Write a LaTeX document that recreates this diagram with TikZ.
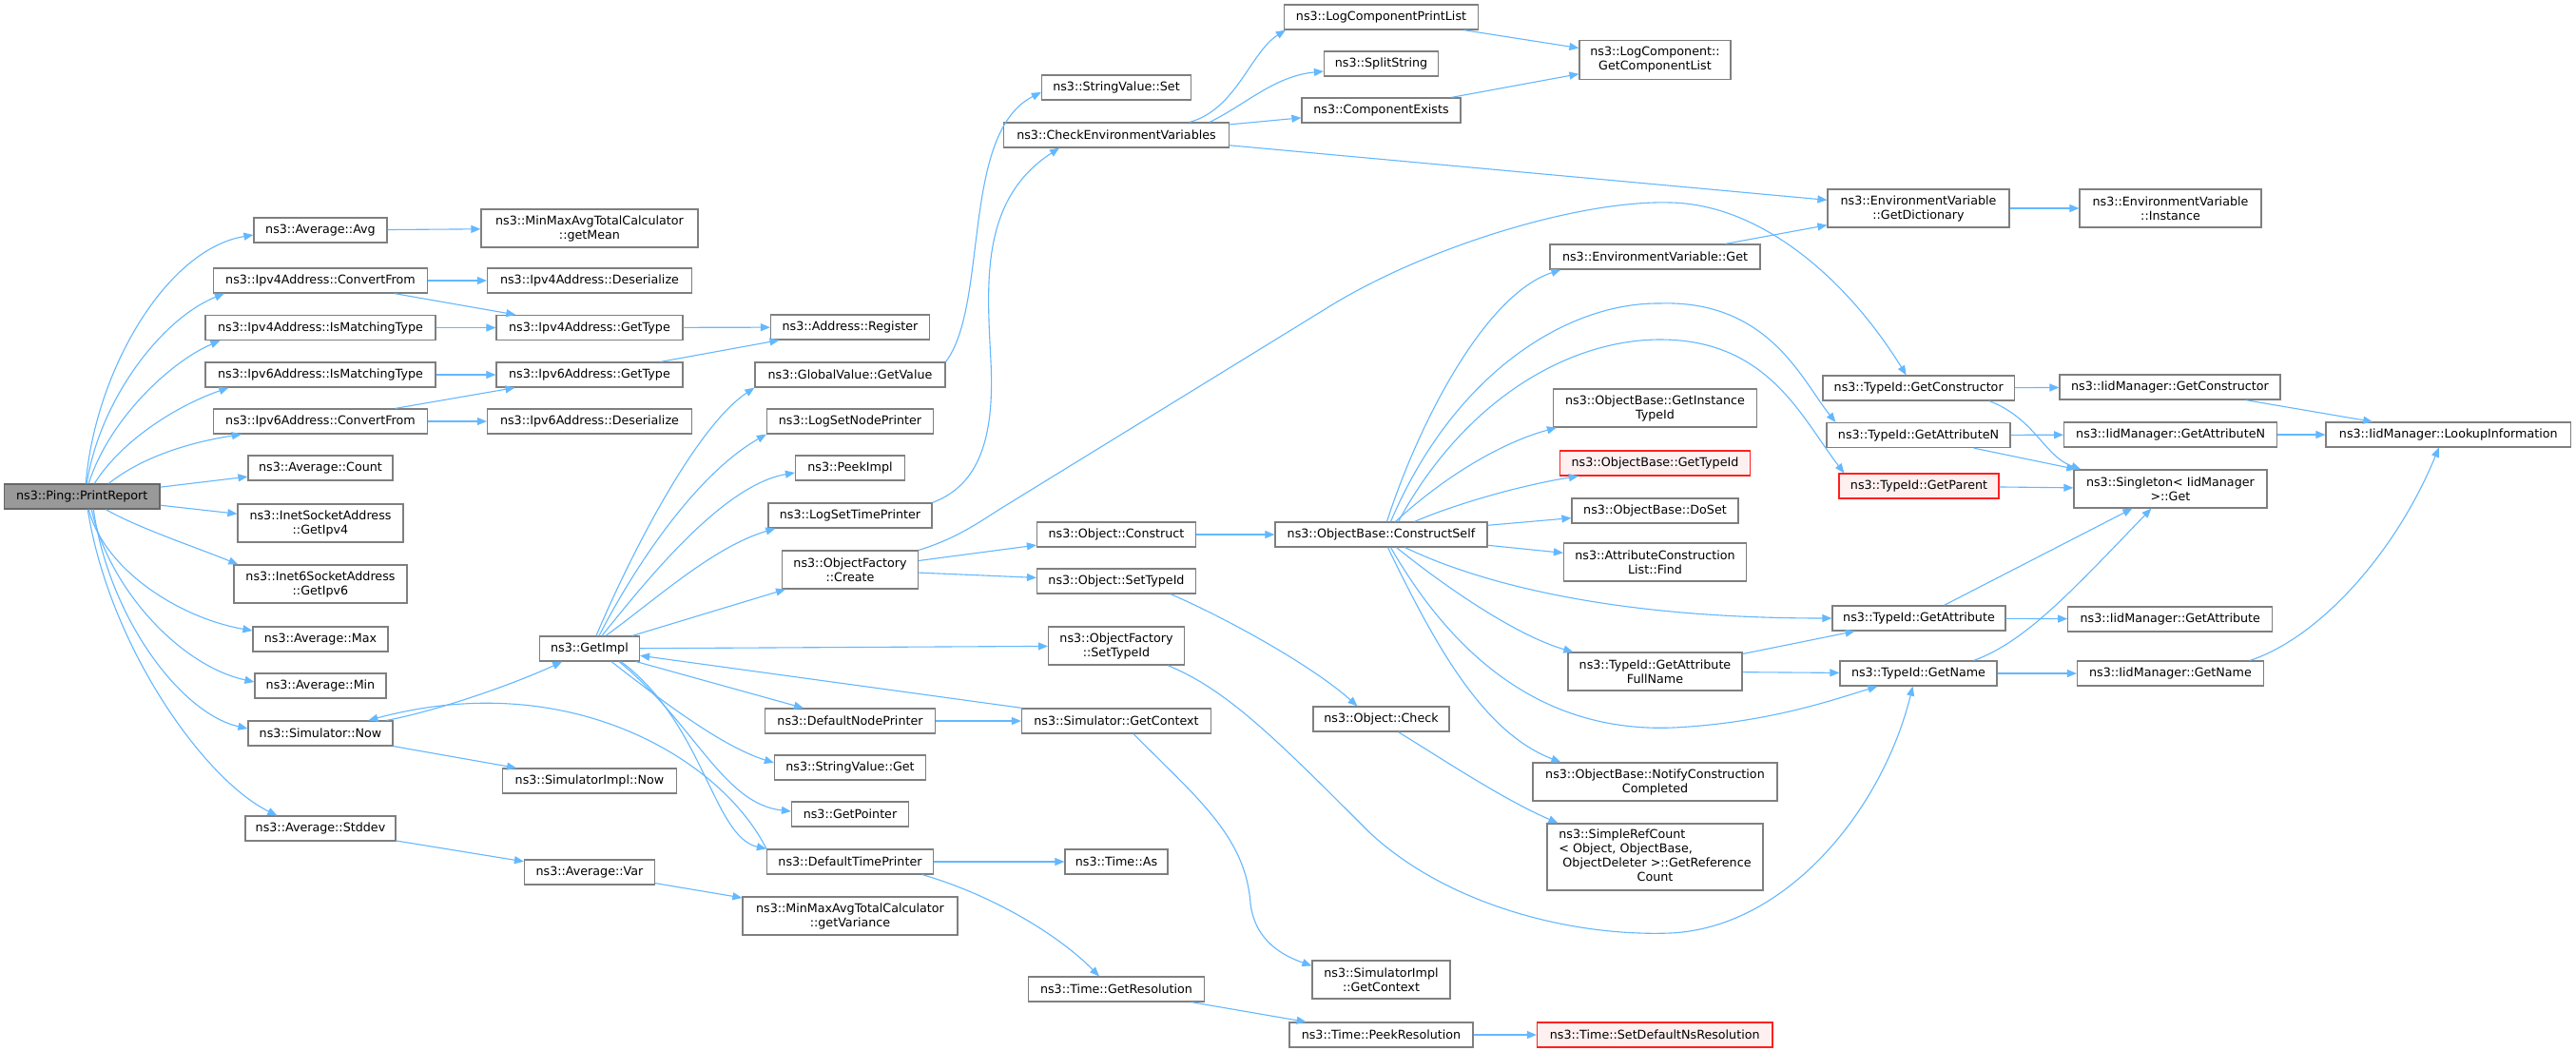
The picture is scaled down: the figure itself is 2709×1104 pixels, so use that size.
\documentclass[tikz,border=0pt]{standalone}
\usepackage{fontspec}
\setmainfont{DejaVu Sans}
\usetikzlibrary{arrows.meta,calc}
\definecolor{edgec}{HTML}{63B8FF}
\definecolor{nodeb}{HTML}{7F7F7F}
\definecolor{prfill}{HTML}{999999}
\definecolor{redb}{HTML}{FF2020}
\definecolor{redf}{HTML}{FFF0F0}
\tikzset{
  box/.style={draw=nodeb, line width=1.2pt, fill=white, minimum height=26pt, inner sep=0pt, align=center, font=\fontsize{12.7pt}{15pt}\selectfont, text=black},
  box2/.style={box, minimum height=40pt},
  bw/.style={minimum width=#1pt},
  redbox/.style={draw=redb, fill=redf},
  conn/.style={draw=edgec, line width=1.1pt, -{Triangle[length=10pt,width=8pt]}},
}
\begin{document}
\begin{tikzpicture}[x=1pt,y=-1pt]
\useasboundingbox (0,0) rectangle (2709,1104);
\fill[white] (0,0) rectangle (2709,1104);
% column A
\node[box,bw=163.5,fill=prfill,draw=nodeb!80!black] (pr) at (86.25,522) {ns3::Ping::PrintReport};
% column B
\node[box,bw=140] (avg) at (337,242) {ns3::Average::Avg};
\node[box,bw=225] (v4cf) at (337,295) {ns3::Ipv4Address::ConvertFrom};
\node[box,bw=242] (v4im) at (337,344.5) {ns3::Ipv4Address::IsMatchingType};
\node[box,bw=242] (v6im) at (337,394) {ns3::Ipv6Address::IsMatchingType};
\node[box,bw=225] (v6cf) at (337,443) {ns3::Ipv6Address::ConvertFrom};
\node[box,bw=152] (cnt) at (337,492) {ns3::Average::Count};
\node[box2,bw=174] (ip4) at (337,550) {ns3::InetSocketAddress\\::GetIpv4};
\node[box2,bw=182] (ip6) at (337,614) {ns3::Inet6SocketAddress\\::GetIpv6};
\node[box,bw=142] (max) at (337,672) {ns3::Average::Max};
\node[box,bw=138] (min) at (337,721) {ns3::Average::Min};
\node[box,bw=152] (snow) at (337,771) {ns3::Simulator::Now};
\node[box,bw=158] (std) at (337,871) {ns3::Average::Stddev};
% column C
\node[box2,bw=228] (mean) at (620,240) {ns3::MinMaxAvgTotalCalculator\\::getMean};
\node[box,bw=215] (v4ds) at (620,295) {ns3::Ipv4Address::Deserialize};
\node[box,bw=196] (v4gt) at (620,344.5) {ns3::Ipv4Address::GetType};
\node[box,bw=196] (v6gt) at (620,394) {ns3::Ipv6Address::GetType};
\node[box,bw=215] (v6ds) at (620,443) {ns3::Ipv6Address::Deserialize};
\node[box,bw=105] (gimpl) at (620,682) {ns3::GetImpl};
\node[box,bw=183] (simn) at (620,821) {ns3::SimulatorImpl::Now};
\node[box,bw=137] (var) at (620,917) {ns3::Average::Var};
% column D
\node[box,bw=167] (reg) at (894,344) {ns3::Address::Register};
\node[box,bw=200] (gv) at (894,394) {ns3::GlobalValue::GetValue};
\node[box,bw=175] (lsnp) at (894,443) {ns3::LogSetNodePrinter};
\node[box,bw=115] (peek) at (894,492) {ns3::PeekImpl};
\node[box,bw=172] (lstp) at (894,542) {ns3::LogSetTimePrinter};
\node[box2,bw=143] (ofc) at (894,599) {ns3::ObjectFactory\\::Create};
\node[box,bw=179] (dnp) at (894,758) {ns3::DefaultNodePrinter};
\node[box,bw=159] (svg) at (894,807) {ns3::StringValue::Get};
\node[box,bw=123] (gptr) at (894,856) {ns3::GetPointer};
\node[box,bw=175] (dtp) at (894,906) {ns3::DefaultTimePrinter};
\node[box2,bw=226] (var2) at (894,963) {ns3::MinMaxAvgTotalCalculator\\::getVariance};
% column E
\node[box,bw=157] (svs) at (1174,92) {ns3::StringValue::Set};
\node[box,bw=237] (cev) at (1174,142) {ns3::CheckEnvironmentVariables};
\node[box,bw=167] (ocon) at (1174,562) {ns3::Object::Construct};
\node[box,bw=167] (osti) at (1174,611) {ns3::Object::SetTypeId};
\node[box2,bw=143] (ofst) at (1174,679) {ns3::ObjectFactory\\::SetTypeId};
\node[box,bw=199] (sgc) at (1174,758) {ns3::Simulator::GetContext};
\node[box,bw=108] (tas) at (1174,906) {ns3::Time::As};
\node[box,bw=185] (tgr) at (1174,1040) {ns3::Time::GetResolution};
% column F
\node[box,bw=204] (lcpl) at (1452.5,18) {ns3::LogComponentPrintList};
\node[box,bw=120] (split) at (1452.5,67) {ns3::SplitString};
\node[box,bw=167] (cex) at (1452.5,116) {ns3::ComponentExists};
\node[box,bw=223] (cself) at (1452.5,562) {ns3::ObjectBase::ConstructSelf};
\node[box,bw=143] (ochk) at (1452.5,756) {ns3::Object::Check};
\node[box2,bw=145] (sigc) at (1452.5,1030) {ns3::SimulatorImpl\\::GetContext};
\node[box,bw=193] (tpr) at (1452.5,1088) {ns3::Time::PeekResolution};
% column G
\node[box2,bw=159,minimum height=41pt] (gcl) at (1740.5,63) {ns3::LogComponent::\\GetComponentList};
\node[box,bw=221] (evg) at (1740.5,270) {ns3::EnvironmentVariable::Get};
\node[box2,bw=214] (git) at (1740.5,429) {ns3::ObjectBase::GetInstance\\TypeId};
\node[box,bw=200,redbox] (ogt) at (1740.5,487) {ns3::ObjectBase::GetTypeId};
\node[box,bw=175] (doset) at (1740.5,537) {ns3::ObjectBase::DoSet};
\node[box2,bw=192] (acl) at (1740.5,591) {ns3::AttributeConstruction\\List::Find};
\node[box2,bw=183] (gafn) at (1740.5,706) {ns3::TypeId::GetAttribute\\FullName};
\node[box2,bw=257] (ncc) at (1740.5,822) {ns3::ObjectBase::NotifyConstruction\\Completed};
\node[box,bw=227,minimum height=70pt] (src) at (1740.5,901) {\begin{tabular}{@{}l@{}}ns3::SimpleRefCount\\< Object, ObjectBase,\\\ ObjectDeleter >::GetReference\\\multicolumn{1}{@{}c@{}}{Count}\end{tabular}};
\node[box,bw=247.5,redbox] (sdn) at (1740.25,1088) {ns3::Time::SetDefaultNsResolution};
% column H
\node[box2,bw=191] (gdict) at (2017.5,219) {ns3::EnvironmentVariable\\::GetDictionary};
\node[box,bw=201.5] (tgc) at (2017.7,408) {ns3::TypeId::GetConstructor};
\node[box,bw=193] (tgan) at (2017.5,457.5) {ns3::TypeId::GetAttributeN};
\node[box,bw=168,redbox] (tgp) at (2018,511) {ns3::TypeId::GetParent};
\node[box,bw=182] (tga) at (2018,650) {ns3::TypeId::GetAttribute};
\node[box,bw=165] (tgn) at (2017.5,708) {ns3::TypeId::GetName};
% column I
\node[box2,bw=191] (evi) at (2282.5,219) {ns3::EnvironmentVariable\\::Instance};
\node[box,bw=232] (igc) at (2282,407) {ns3::IidManager::GetConstructor};
\node[box,bw=224] (igan) at (2282.6,457) {ns3::IidManager::GetAttributeN};
\node[box2,bw=203] (sing) at (2282.4,514) {ns3::Singleton< IidManager\\>::Get};
\node[box,bw=215] (iga) at (2282.3,651) {ns3::IidManager::GetAttribute};
\node[box,bw=196] (ign) at (2282.5,708) {ns3::IidManager::GetName};
% column J
\node[box,bw=257.5] (lookup) at (2574.75,457) {ns3::IidManager::LookupInformation};

% ---- edges from PrintReport
\draw[conn] ($(pr.north)+(4,0)$) .. controls (100,390) and (175,262) .. ($(avg.west)+(0,5)$);
\draw[conn] ($(pr.north)+(5,0)$) .. controls (105,420) and (170,335) .. ($(v4cf.south west)+(12,0)$);
\draw[conn] ($(pr.north)+(7,0)$) .. controls (115,440) and (180,380) .. ($(v4im.south west)+(16,0)$);
\draw[conn] ($(pr.north)+(13,0)$) .. controls (130,460) and (190,425) .. ($(v6im.south west)+(25,0)$);
\draw[conn] ($(pr.north)+(28,0)$) .. controls (150,480) and (200,465) .. ($(v6cf.south west)+(30,0)$);
\draw[conn] (pr) -- (cnt);
\draw[conn] (pr) -- (ip4);
\draw[conn] ($(pr.south)+(25,0)$) .. controls (145,555) and (205,575) .. ($(ip6.north west)+(5,0)$);
\draw[conn] ($(pr.south)+(7,0)$) .. controls (110,600) and (190,650) .. ($(max.west)+(0,-9)$);
\draw[conn] ($(pr.south)+(10,0)$) .. controls (115,620) and (190,700) .. ($(min.west)+(0,-4)$);
\draw[conn] ($(pr.south)+(12,0)$) .. controls (115,650) and (190,750) .. ($(snow.west)+(0,-5)$);
\draw[conn] ($(pr.south)+(6,0)$) .. controls (115,680) and (215,820) .. ($(std.north west)+(34,0)$);
% ---- column B -> C
\draw[conn] (avg) -- (mean);
\draw[conn] (v4cf) -- (v4ds);
\draw[conn] (v4cf) -- (v4gt);
\draw[conn] (v4im) -- (v4gt);
\draw[conn] (v6im) -- (v6gt);
\draw[conn] (v6cf) -- (v6gt);
\draw[conn] (v6cf) -- (v6ds);
\draw[conn] (v4gt) -- (reg);
\draw[conn] (v6gt) -- (reg);
\draw[conn] (snow) .. controls (470,745) and (550,715) .. (gimpl);
\draw[conn] (snow) -- (simn);
\draw[conn] (std) -- (var);
\draw[conn] (var) -- (var2);
% ---- GetImpl
\draw[conn] ($(gimpl.north)+(7,0)$) .. controls (660,590) and (730,450) .. (gv.south west);
\draw[conn] ($(gimpl.north)+(10,0)$) .. controls (665,600) and (730,500) .. (lsnp.south west);
\draw[conn] ($(gimpl.north)+(13,0)$) .. controls (680,610) and (760,510) .. ($(peek.west)+(0,5)$);
\draw[conn] ($(gimpl.north)+(17,0)$) .. controls (690,630) and (750,575) .. ($(lstp.south west)+(8,0)$);
\draw[conn] (gimpl) -- (ofc);
\draw[conn] (gimpl) -- (ofst);
\draw[conn] (gimpl) -- (dnp);
\draw[conn] ($(gimpl.south)+(23,0)$) .. controls (700,740) and (760,785) .. ($(svg.west)+(0,-5)$);
\draw[conn] ($(gimpl.south)+(31,0)$) .. controls (730,760) and (760,845) .. ($(gptr.west)+(0,-3)$);
\draw[conn] ($(gimpl.south)+(33,0)$) .. controls (740,760) and (750,880) .. (dtp.north west);
\draw[conn] (dtp.north west) .. controls (760,800) and (600,700) .. (snow);
\draw[conn] (sgc) -- (gimpl);
\draw[conn] (dnp) -- (sgc);
\draw[conn] (dtp) -- (tas);
\draw[conn] ($(dtp.south east)+(-12,0)$) .. controls (1040,940) and (1110,980) .. ($(tgr.north)+(-18,0)$);
\draw[conn] (tgr) -- (tpr);
\draw[conn] (tpr) -- (sdn);
\draw[conn] ($(sgc.south)+(18,0)$) .. controls (1260,840) and (1310,880) .. (1315,950) .. controls (1320,990) and (1350,1005) .. ($(sigc.north west)+(0,6)$);
% ---- GlobalValue / LogSetTimePrinter
\draw[conn] (gv.north east) .. controls (1040,320) and (1010,140) .. ($(svs.west)+(0,5)$);
\draw[conn] (lstp.north east) .. controls (1030,510) and (1046,460) .. (1042,380) .. controls (1038,300) and (1030,210) .. ($(cev.south)+(-60,0)$);
% ---- CheckEnvironmentVariables
\draw[conn] ($(cev.north)+(77,0)$) .. controls (1300,115) and (1315,55) .. ($(lcpl.south west)+(2,0)$);
\draw[conn] ($(cev.north)+(98,0)$) .. controls (1310,110) and (1340,80) .. ($(split.west)+(0,8)$);
\draw[conn] (cev) -- (cex);
\draw[conn] (cev) -- (gdict);
\draw[conn] (lcpl) -- (gcl);
\draw[conn] (cex) -- (gcl);
\draw[conn] (evg) -- (gdict);
\draw[conn] (gdict) -- (evi);
% ---- Object factory
\draw[conn] (ofc) -- (ocon);
\draw[conn] (ofc) -- (osti);
\draw[conn] (ofc.north east) .. controls (1010,565) and (1035,545) .. (1060,530) -- (1400,321) .. controls (1500,260) and (1660,210) .. (1757,213) .. controls (1850,215) and (1940,290) .. ($(tgc.north)+(-13,0)$);
\draw[conn] (ocon) -- (cself);
\draw[conn] ($(osti.south)+(57,0)$) .. controls (1290,650) and (1380,700) .. ($(ochk.north)+(-25,0)$);
\draw[conn] ($(ofst.south)+(54,0)$) .. controls (1290,725) and (1340,775) .. (1440,875) .. controls (1520,950) and (1650,985) .. (1757,981) .. controls (1880,975) and (1980,850) .. ($(tgn.south)+(-6,0)$);
\draw[conn] ($(ochk.south)+(18,0)$) .. controls (1520,800) and (1580,840) .. ($(src.north west)+(12,0)$);
% ---- ConstructSelf
\draw[conn] ($(cself.north)+(6,0)$) .. controls (1490,450) and (1560,310) .. ($(evg.south west)+(12,0)$);
\draw[conn] ($(cself.north)+(10,0)$) .. controls (1530,390) and (1650,318) .. (1745,319) .. controls (1860,315) and (1895,400) .. ($(tgan.north west)+(10,0)$);
\draw[conn] ($(cself.north)+(18,0)$) .. controls (1540,420) and (1650,357) .. (1746,357) .. controls (1860,357) and (1895,440) .. ($(tgp.north west)+(6,0)$);
\draw[conn] ($(cself.north)+(15,0)$) .. controls (1520,500) and (1580,465) .. ($(git.south west)+(4,0)$);
\draw[conn] ($(cself.north)+(35,0)$) .. controls (1530,530) and (1600,510) .. ($(ogt.south west)+(20,0)$);
\draw[conn] (cself) -- (doset);
\draw[conn] (cself) -- (acl);
\draw[conn] ($(cself.south)+(25,0)$) .. controls (1560,615) and (1700,650) .. (tga);
\draw[conn] ($(cself.south)+(16,0)$) .. controls (1530,625) and (1600,670) .. ($(gafn.north west)+(6,0)$);
\draw[conn] ($(cself.south)+(10,0)$) .. controls (1540,710) and (1640,770) .. (1760,765) .. controls (1860,760) and (1930,735) .. ($(tgn.south west)+(40,0)$);
\draw[conn] ($(cself.south)+(7,0)$) .. controls (1510,680) and (1560,770) .. ($(ncc.north west)+(30,0)$);
% ---- TypeId
\draw[conn] (gafn) -- (tga);
\draw[conn] (gafn) -- (tgn);
\draw[conn] (tgc) -- (igc);
\draw[conn] ($(tgc.south east)+(-27,0)$) .. controls (2140,440) and (2150,480) .. ($(sing.north west)+(8,0)$);
\draw[conn] (tgan) -- (igan);
\draw[conn] ($(tgan.south east)+(-39,0)$) -- ($(sing.north west)+(3,0)$);
\draw[conn] (tgp) -- (sing);
\draw[conn] (tga) -- (sing);
\draw[conn] (tga) -- (iga);
\draw[conn] ($(tgn.north east)+(-25,0)$) .. controls (2130,675) and (2180,620) .. ($(sing.south)+(-20,0)$);
\draw[conn] (tgn) -- (ign);
\draw[conn] (igc) -- (lookup);
\draw[conn] (igan) -- (lookup);
\draw[conn] ($(ign.north east)+(-15,0)$) .. controls (2440,670) and (2520,580) .. ($(lookup.south)+(-10,0)$);
\end{tikzpicture}
\end{document}
